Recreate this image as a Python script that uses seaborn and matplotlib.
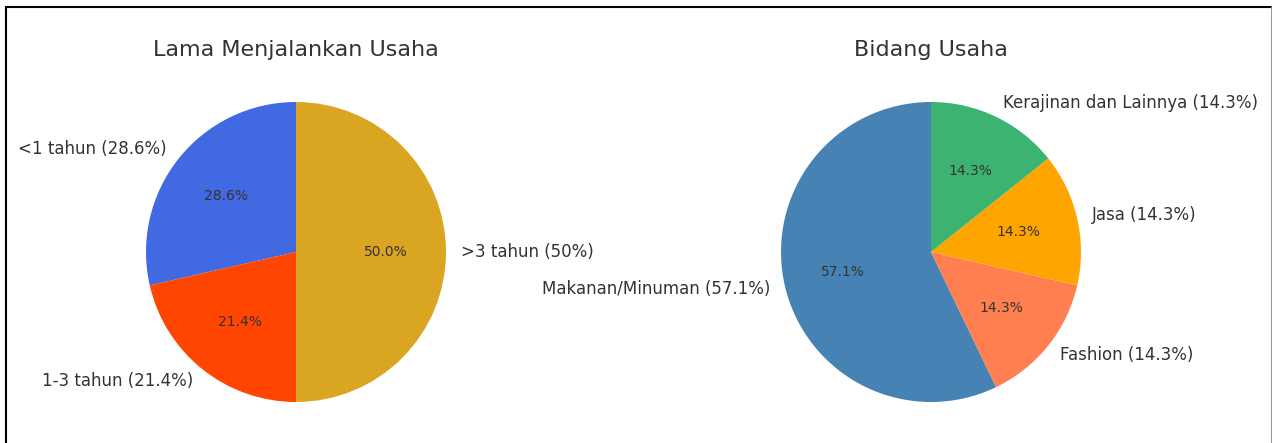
import matplotlib
matplotlib.use("Agg")
import matplotlib.pyplot as plt
import seaborn as sns
from matplotlib.lines import Line2D

# data
lama_labels = ["<1 tahun (28.6%)", "1-3 tahun (21.4%)", ">3 tahun (50%)"]
lama_values = [4, 3, 7]
lama_colors = ["royalblue", "orangered", "goldenrod"]

bidang_labels = ["Makanan/Minuman (57.1%)", "Fashion (14.3%)", "Jasa (14.3%)",
                 "Kerajinan dan Lainnya (14.3%)"]
bidang_values = [4, 1, 1, 1]
bidang_colors = ["steelblue", "coral", "orange", "mediumseagreen"]

sns.set_style("white")
plt.rcParams['font.family'] = ['DejaVu Sans']
plt.rcParams['text.color'] = '.2'

W, H = 1272, 443
fig = plt.figure(figsize=(W / 100, H / 100), dpi=100)

# pie radius ~150px, axes spans 2.5 radii
size = 375
cy = 252


def make_axes(cx):
    return fig.add_axes([(cx - size / 2) / W, (H - cy - size / 2) / H, size / W, size / H])


ax1 = make_axes(296)
ax1.pie(lama_values, labels=lama_labels, colors=lama_colors, autopct='%1.1f%%',
        startangle=90, textprops={'fontsize': 12}, wedgeprops={'linewidth': 0})
for t in ax1.texts[1::2]:
    t.set_fontsize(10)
ax1.set_title("Lama Menjalankan Usaha", fontsize=16)
ax1.set_aspect('equal')

ax2 = make_axes(931)
ax2.pie(bidang_values, labels=bidang_labels, colors=bidang_colors, autopct='%1.1f%%',
        startangle=90, textprops={'fontsize': 12}, wedgeprops={'linewidth': 0})
for t in ax2.texts[1::2]:
    t.set_fontsize(10)
ax2.set_title("Bidang Usaha", fontsize=16)
ax2.set_aspect('equal')

# screenshot frame
fig.add_artist(Line2D([6 / W, 1271 / W], [(H - 7) / H, (H - 7) / H], color='black', lw=1.5,
                      transform=fig.transFigure))
fig.add_artist(Line2D([6 / W, 6 / W], [0, (H - 7) / H], color='black', lw=1.5,
                      transform=fig.transFigure))
fig.add_artist(Line2D([1270.5 / W, 1270.5 / W], [0, (H - 7) / H], color='0.6', lw=0.8,
                      transform=fig.transFigure))

fig.savefig("out.png", dpi=100)
